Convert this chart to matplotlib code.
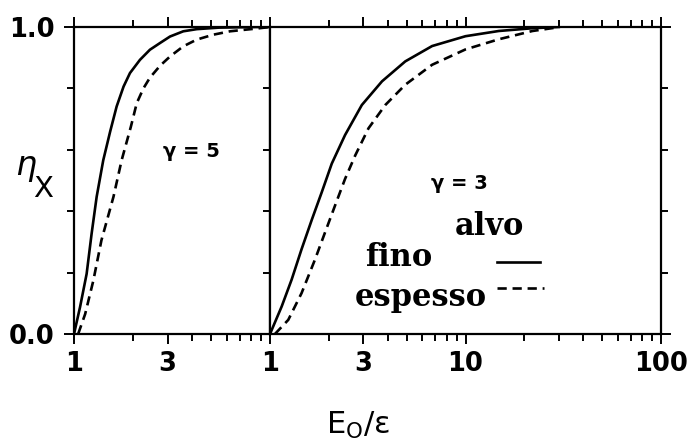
import matplotlib
matplotlib.use("Agg")
import matplotlib.pyplot as plt
from matplotlib.ticker import FixedLocator, NullFormatter

plt.rcParams['font.family'] = ['DejaVu Sans']
plt.rcParams['mathtext.fontset'] = 'custom'
plt.rcParams['mathtext.rm'] = 'DejaVu Sans'

# gamma = 5 panel
x5_fino = [1.0, 1.073, 1.16, 1.23, 1.305, 1.41, 1.53, 1.65, 1.79, 1.93, 2.17, 2.44, 2.75, 3.09, 3.61, 4.23, 5.5, 8.5, 10.0]
y5_fino = [0.0, 0.087, 0.196, 0.327, 0.447, 0.566, 0.660, 0.741, 0.806, 0.850, 0.893, 0.926, 0.948, 0.969, 0.986, 0.993, 0.998, 1.0, 1.0]
x5_esp = [1.05, 1.14, 1.255, 1.38, 1.59, 1.75, 1.95, 2.09, 2.26, 2.44, 2.75, 3.09, 3.61, 4.23, 5.14, 6.25, 8.55, 10.0]
y5_esp = [0.0, 0.065, 0.174, 0.305, 0.447, 0.566, 0.675, 0.752, 0.800, 0.835, 0.874, 0.904, 0.937, 0.959, 0.975, 0.986, 0.995, 1.0]

# gamma = 3 panel
x3_fino = [1.0, 1.148, 1.29, 1.45, 1.64, 1.84, 2.07, 2.42, 2.95, 3.74, 4.92, 6.75, 10.0, 14.8, 22.0, 30.0]
y3_fino = [0.0, 0.090, 0.177, 0.276, 0.374, 0.462, 0.555, 0.648, 0.746, 0.823, 0.888, 0.938, 0.970, 0.987, 0.996, 1.0]
x3_esp = [1.06, 1.24, 1.45, 1.70, 1.91, 2.15, 2.42, 2.73, 3.19, 3.89, 4.92, 6.75, 10.0, 14.8, 22.0, 29.0]
y3_esp = [0.0, 0.046, 0.133, 0.243, 0.330, 0.418, 0.505, 0.582, 0.670, 0.746, 0.812, 0.877, 0.927, 0.960, 0.987, 0.998]

xlabels_left = ['1', '3']
xlabels_right = ['1', '3', '10', '100']

fig = plt.figure(figsize=(6.91, 4.44), dpi=100)
bot = 1 - 334 / 444
hgt = (334 - 27) / 444
axL = fig.add_axes([74 / 691, bot, (270 - 74) / 691, hgt])
axR = fig.add_axes([270 / 691, bot, (661 - 270) / 691, hgt])

lw = 1.9
dash = (0, (3.5, 2.2))

axL.plot(x5_fino, y5_fino, color='black', lw=lw)
axL.plot(x5_esp, y5_esp, color='black', lw=lw, linestyle=dash)
axR.plot(x3_fino, y3_fino, color='black', lw=lw)
axR.plot(x3_esp, y3_esp, color='black', lw=lw, linestyle=dash)

for ax, xmax, labs in [(axL, 10, xlabels_left), (axR, 100, xlabels_right)]:
    ax.set_xscale('log')
    ax.set_xlim(1, xmax)
    ax.set_ylim(0, 1)
    majors = [float(s) for s in labs]
    ax.xaxis.set_major_locator(FixedLocator(majors))
    ax.set_xticklabels(labs)
    minors = [m * d for d in [1, 10] for m in range(2, 10) if m * d < xmax and m * d not in majors]
    ax.xaxis.set_minor_locator(FixedLocator(minors))
    ax.xaxis.set_minor_formatter(NullFormatter())
    ax.yaxis.set_major_locator(FixedLocator([0.0, 1.0]))
    ax.yaxis.set_minor_locator(FixedLocator([0.2, 0.4, 0.6, 0.8]))
    ax.tick_params(which='both', direction='out', top=True, right=True, width=1.4, color='black')
    ax.tick_params(which='major', length=7)
    ax.tick_params(which='minor', length=5)
    ax.tick_params(axis='x', labelsize=18.5, pad=5)
    ax.tick_params(axis='y', labelsize=18.5, pad=7)
    for s in ax.spines.values():
        s.set_linewidth(1.6)

axL.set_yticklabels(['0.0', '1.0'])
axR.set_yticklabels([])
for t in axL.get_xticklabels() + axL.get_yticklabels() + axR.get_xticklabels():
    t.set_fontweight('bold')

axL.text(0.60, 0.595, 'γ = 5', transform=axL.transAxes, ha='center', va='center', fontsize=14, fontweight='bold')
axR.text(0.485, 0.49, 'γ = 3', transform=axR.transAxes, ha='center', va='center', fontsize=14, fontweight='bold')

serif = dict(family='DejaVu Serif', fontweight='bold', fontsize=22)
axR.text(0.56, 0.35, 'alvo', transform=axR.transAxes, ha='center', va='center', **serif)
axR.text(0.33, 0.25, 'fino', transform=axR.transAxes, ha='center', va='center', **serif)
axR.text(0.385, 0.12, 'espesso', transform=axR.transAxes, ha='center', va='center', **serif)
axR.plot([0.58, 0.69], [0.235, 0.235], transform=axR.transAxes, color='black', lw=lw)
axR.plot([0.58, 0.70], [0.15, 0.15], transform=axR.transAxes, color='black', lw=lw, linestyle=dash)

fig.text(26 / 691, 1 - 166 / 444, 'η', fontsize=24, ha='center', va='center', style='italic')
fig.text(43 / 691, 1 - 189 / 444, 'X', fontsize=21, ha='center', va='center')

fig.text(358 / 691, 1 - 425 / 444, r'E$_{\mathrm{O}}$/ε', fontsize=22, ha='center', va='center')

fig.savefig('out.png', dpi=100)
